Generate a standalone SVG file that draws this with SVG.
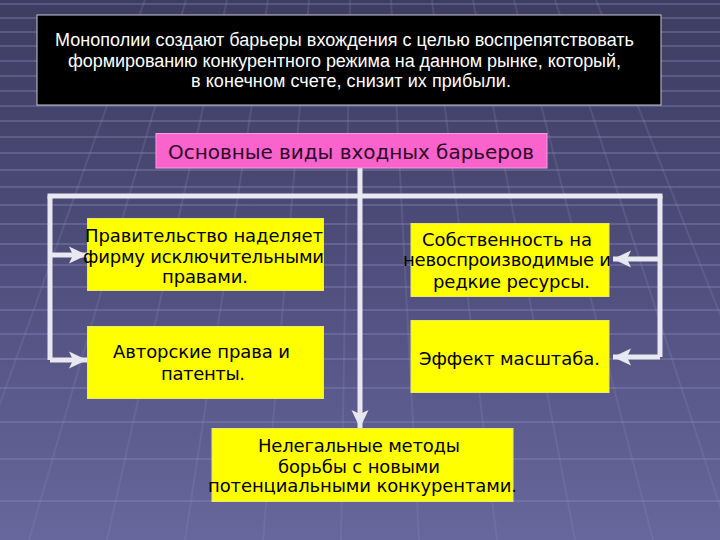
<svg xmlns="http://www.w3.org/2000/svg" width="720" height="540" viewBox="0 0 720 540">
<defs>
<linearGradient id="bg" x1="0" y1="0" x2="0" y2="1">
<stop offset="0" stop-color="#3d3c61"/>
<stop offset="0.5" stop-color="#4f4e7c"/>
<stop offset="1" stop-color="#67679d"/>
</linearGradient>
<marker id="ah" markerUnits="userSpaceOnUse" markerWidth="20" markerHeight="20" viewBox="0 0 20 20" refX="18" refY="10" orient="auto">
<path d="M0 1.5 L18 10 L0 18.5 L4 10 Z" fill="#e8e8f0"/>
</marker>
<style>
.hl{stroke:#8d8cc0;stroke-width:2;opacity:0.35}
.vl{stroke:#8d8cc0;stroke-width:2;opacity:0.22}
.con{fill:none;stroke:#e8e8f0;stroke-width:5}
.y{fill:#ffff00;stroke:#e8e86a;stroke-width:1}
.t{font-family:"DejaVu Sans",sans-serif;font-size:18px;fill:#000}
.w{font-family:"Liberation Sans",Arial,sans-serif;font-size:18px;fill:#fff}
</style>
</defs>
<g id="background">
<rect width="720" height="540" fill="url(#bg)"/>
<g class="hl">
<line x1="0" y1="4" x2="720" y2="4"/><line x1="0" y1="18" x2="720" y2="18"/><line x1="0" y1="32" x2="720" y2="32"/><line x1="0" y1="46" x2="720" y2="46"/><line x1="0" y1="61" x2="720" y2="61"/><line x1="0" y1="76" x2="720" y2="76"/><line x1="0" y1="91" x2="720" y2="91"/><line x1="0" y1="106" x2="720" y2="106"/><line x1="0" y1="121" x2="720" y2="121"/><line x1="0" y1="137" x2="720" y2="137"/><line x1="0" y1="153" x2="720" y2="153"/><line x1="0" y1="170" x2="720" y2="170"/><line x1="0" y1="187" x2="720" y2="187"/><line x1="0" y1="205" x2="720" y2="205"/><line x1="0" y1="224" x2="720" y2="224"/><line x1="0" y1="244" x2="720" y2="244"/><line x1="0" y1="265" x2="720" y2="265"/><line x1="0" y1="287" x2="720" y2="287"/><line x1="0" y1="310" x2="720" y2="310"/><line x1="0" y1="334" x2="720" y2="334"/><line x1="0" y1="359" x2="720" y2="359"/><line x1="0" y1="388" x2="720" y2="388"/><line x1="0" y1="422" x2="720" y2="422"/><line x1="0" y1="459" x2="720" y2="459"/><line x1="0" y1="501" x2="720" y2="501"/>
</g>
<g class="vl">
<line x1="186" y1="0" x2="29" y2="540"/><line x1="227" y1="0" x2="107" y2="540"/><line x1="268" y1="0" x2="185" y2="540"/><line x1="309" y1="0" x2="263" y2="540"/><line x1="350" y1="0" x2="341" y2="540"/><line x1="391" y1="0" x2="419" y2="540"/><line x1="432" y1="0" x2="497" y2="540"/><line x1="473" y1="0" x2="575" y2="540"/><line x1="514" y1="0" x2="653" y2="540"/><line x1="555" y1="0" x2="731" y2="540"/><line x1="145" y1="0" x2="-49" y2="540"/><line x1="596" y1="0" x2="809" y2="540"/>
</g>
</g>
<g id="header">
<rect x="37" y="15" width="624" height="90" fill="#000" stroke="#c8c8d2" stroke-width="1"/>
<text class="w" x="55" y="46" textLength="579">Монополии создают барьеры вхождения с целью воспрепятствовать</text>
<text class="w" x="68" y="66.5" textLength="553">формированию конкурентного режима на данном рынке, который,</text>
<text class="w" x="191" y="87" textLength="320">в конечном счете, снизит их прибыли.</text>
</g>
<g id="connectors">
<path class="con" d="M360 168 V196"/>
<path class="con" d="M47.5 196 H662.5"/>
<path class="con" d="M50 196 V360"/>
<path class="con" d="M660 196 V357"/>
<path class="con" d="M50 255 H87" marker-end="url(#ah)"/>
<path class="con" d="M50 360 H87" marker-end="url(#ah)"/>
<path class="con" d="M660 259 H613" marker-end="url(#ah)"/>
<path class="con" d="M660 357 H613" marker-end="url(#ah)"/>
<path class="con" d="M360 196 V428" marker-end="url(#ah)"/>
</g>
<g id="types">
<rect x="156" y="133.5" width="391" height="34.5" fill="#fa62cc" stroke="#f5a0dc" stroke-width="1"/>
<text x="168" y="158.5" textLength="366" font-family="DejaVu Sans, sans-serif" font-size="20" fill="#2a0826">Основные виды входных барьеров</text>
</g>
<g id="government">
<rect class="y" x="87.5" y="218.5" width="236" height="72"/>
<text class="t" x="85" y="242" textLength="238">Правительство наделяет</text>
<text class="t" x="83" y="263" textLength="241">фирму исключительными</text>
<text class="t" x="162" y="283" textLength="86">правами.</text>
</g>
<g id="copyright">
<rect class="y" x="87.5" y="326.5" width="236" height="72"/>
<text class="t" x="113" y="358" textLength="177">Авторские права и</text>
<text class="t" x="161" y="380" textLength="84">патенты.</text>
</g>
<g id="resources">
<rect class="y" x="411" y="223.5" width="198" height="73"/>
<text class="t" x="422" y="246" textLength="170">Собственность на</text>
<text class="t" x="403" y="266" textLength="208">невоспроизводимые и</text>
<text class="t" x="433" y="288" textLength="157">редкие ресурсы.</text>
</g>
<g id="scale">
<rect class="y" x="411" y="320.5" width="198" height="72"/>
<text class="t" x="419" y="365" textLength="181">Эффект масштаба.</text>
</g>
<g id="illegal">
<rect class="y" x="212" y="428.5" width="301" height="73"/>
<text class="t" x="258" y="452" textLength="202">Нелегальные методы</text>
<text class="t" x="278" y="473" textLength="162">борьбы с новыми</text>
<text class="t" x="208" y="492" textLength="309">потенциальными конкурентами.</text>
</g>
</svg>
